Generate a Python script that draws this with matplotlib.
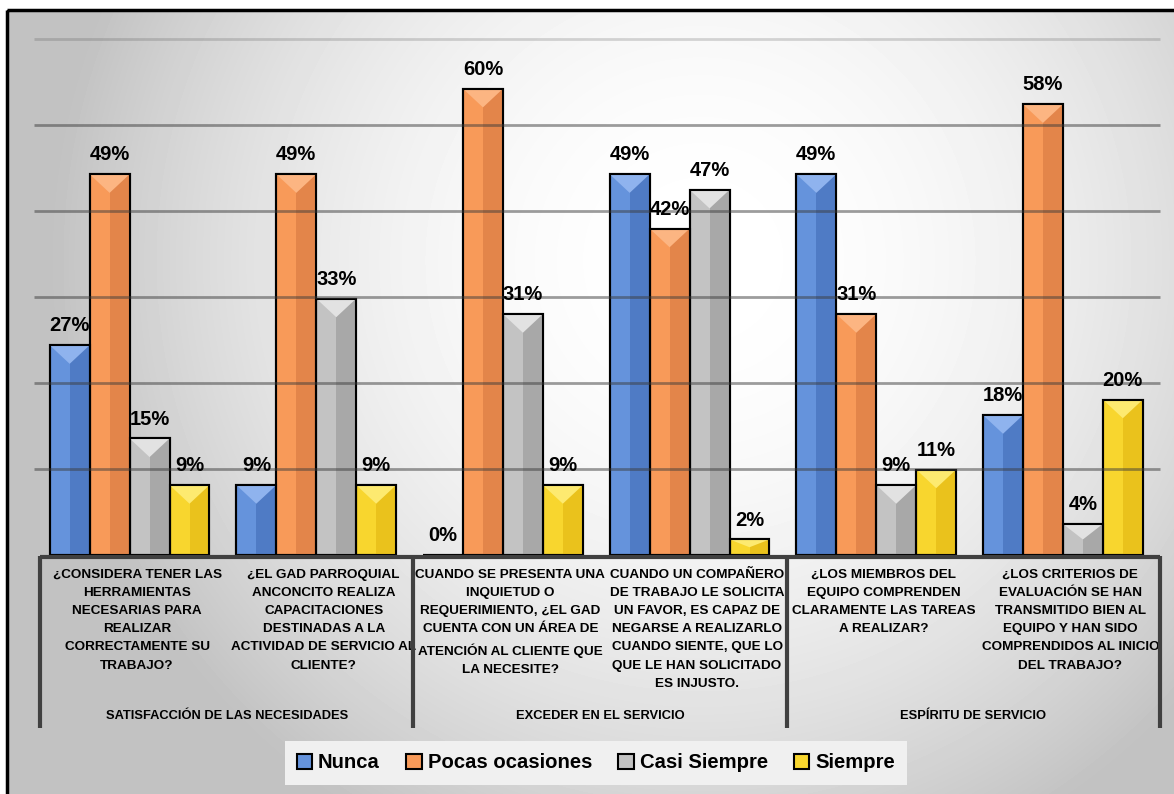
import numpy as np
import matplotlib.pyplot as plt
from matplotlib.patches import Polygon, Rectangle
from matplotlib.transforms import blended_transform_factory

# survey answers per question (percent)
questions = [
    "¿CONSIDERA TENER LAS\nHERRAMIENTAS\nNECESARIAS PARA\nREALIZAR\nCORRECTAMENTE SU\nTRABAJO?",
    "¿EL GAD PARROQUIAL\nANCONCITO REALIZA\nCAPACITACIONES\nDESTINADAS A LA\nACTIVIDAD DE SERVICIO AL\nCLIENTE?",
    "CUANDO SE PRESENTA UNA\nINQUIETUD O\nREQUERIMIENTO, ¿EL GAD\nCUENTA CON UN ÁREA DE\nATENCIÓN AL CLIENTE QUE\nLA NECESITE?",
    "CUANDO UN COMPAÑERO\nDE TRABAJO LE SOLICITA\nUN FAVOR, ES CAPAZ DE\nNEGARSE A REALIZARLO\nCUANDO SIENTE, QUE LO\nQUE LE HAN SOLICITADO\nES INJUSTO.",
    "¿LOS MIEMBROS DEL\nEQUIPO COMPRENDEN\nCLARAMENTE LAS TAREAS\nA REALIZAR?",
    "¿LOS CRITERIOS DE\nEVALUACIÓN SE HAN\nTRANSMITIDO BIEN AL\nEQUIPO Y HAN SIDO\nCOMPRENDIDOS AL INICIO\nDEL TRABAJO?",
]
groups = ["SATISFACCIÓN DE LAS NECESIDADES", "EXCEDER EN EL SERVICIO", "ESPÍRITU DE SERVICIO"]
series = ["Nunca", "Pocas ocasiones", "Casi Siempre", "Siempre"]

nunca = [27, 9, 0, 49, 49, 18]
pocas = [49, 49, 60, 42, 31, 58]
casi = [15, 33, 31, 47, 9, 4]
siempre = [9, 9, 9, 2, 11, 20]

# (front-left, front-right, top bevel)
shades = [
    ("#6593dc", "#4f7bc5", "#8fb3ee"),
    ("#f89a59", "#e3854a", "#fcb582"),
    ("#c3c3c3", "#a8a8a8", "#e2e2e2"),
    ("#f8d62e", "#eac21c", "#fdea70"),
]

fam = ["Liberation Sans", "DejaVu Sans"]
W, H = 1174, 794
fig = plt.figure(figsize=(W / 100, H / 100), dpi=100)

# background: soft radial grey fill inside a black frame
bg = fig.add_axes([0, 0, 1, 1])
bg.axis("off")
yy, xx = np.mgrid[0:H, 0:W]
d2 = ((xx - 700) / 650.0) ** 2 + ((yy - 260) / 650.0) ** 2
grad = np.clip(1 - 0.24 * d2, 0.76, 1.0)
grad[(yy < 10) | (xx < 7)] = 1.0
bg.imshow(grad, cmap="gray", vmin=0, vmax=1, extent=(0, W, H, 0), aspect="auto")
bg.set_xlim(0, W)
bg.set_ylim(H, 0)
bg.add_patch(Rectangle((7, 10), W, H, fill=False, lw=2.5, ec="black"))

ax = fig.add_axes([40 / W, 1 - 555 / H, 1120 / W, (555 - 39) / H])
ax.set_xlim(-0.5, 5.5)
ymax = 66.4
ax.set_ylim(0, ymax)
ax.axis("off")

x = np.arange(len(questions))
w = 0.214
handles = []
for i, (vals, name) in enumerate(zip([nunca, pocas, casi, siempre], series)):
    light, dark, top = shades[i]
    xs = x + (i - 1.5) * w - 0.02
    b = ax.bar(xs, vals, w, color=light, edgecolor="black", linewidth=1.5, zorder=2, label=name)
    handles.append(b)
    ax.bar(xs + w / 4, vals, w / 2, color=dark, linewidth=0, zorder=2.1)
    for xi, v in zip(xs, vals):
        if v > 0:
            d = min(2.4, v * 0.5)
            ax.add_patch(Polygon([(xi - w / 2, v), (xi + w / 2, v), (xi, v - d)],
                                 closed=True, color=top, lw=0, zorder=2.2))
        ax.annotate(f"{v}%", (xi, v), xytext=(0, 10), textcoords="offset points",
                    ha="center", va="baseline", fontsize=14.5, fontweight="bold",
                    family=fam, zorder=6)
    ax.bar(xs, vals, w, fill=False, edgecolor="black", linewidth=1.5, zorder=2.3)

# gridlines drawn over the bars, as on the back wall
for k, g in enumerate(np.linspace(0, ymax, 7)[1:]):
    a = 0.2 if k == 5 else 0.5
    ax.hlines(g, -0.53, 5.5, color="#3c3c3c", alpha=a, lw=2, zorder=3, clip_on=False)

# category table under the bars
trans = blended_transform_factory(ax.transData, fig.transFigure)
ax.plot([-0.5, 5.5], [1 - 557 / H] * 2, transform=trans, color="#404040", lw=3,
        clip_on=False, zorder=5, solid_capstyle="butt")
for xv in [-0.5, 1.5, 3.5, 5.5]:
    ax.plot([xv, xv], [1 - 556 / H, 1 - 728 / H], transform=trans, color="#404040",
            lw=3, clip_on=False, zorder=5, solid_capstyle="butt")
for j, q in enumerate(questions):
    ax.text(j + 0.02, 1 - 569 / H, q, transform=trans, ha="center", va="top", ma="center",
            fontsize=9.7, fontweight="bold", family=fam, linespacing=1.68)
for k, gname in enumerate(groups):
    ax.text(2 * k + 0.5, 1 - 716 / H, gname, transform=trans, ha="center", va="center",
            fontsize=9.3, fontweight="bold", family=fam)

fig.legend(handles, series, loc="center", bbox_to_anchor=(596 / W, 1 - 763 / H), ncol=4,
           frameon=True, facecolor="#f0f0f0", edgecolor="none", fancybox=False, framealpha=1,
           prop=dict(family=fam, weight="bold", size=14.6),
           handlelength=0.75, handleheight=0.75, handletextpad=0.3, columnspacing=1.3,
           borderpad=0.6)

fig.savefig("out.png", dpi=100)
